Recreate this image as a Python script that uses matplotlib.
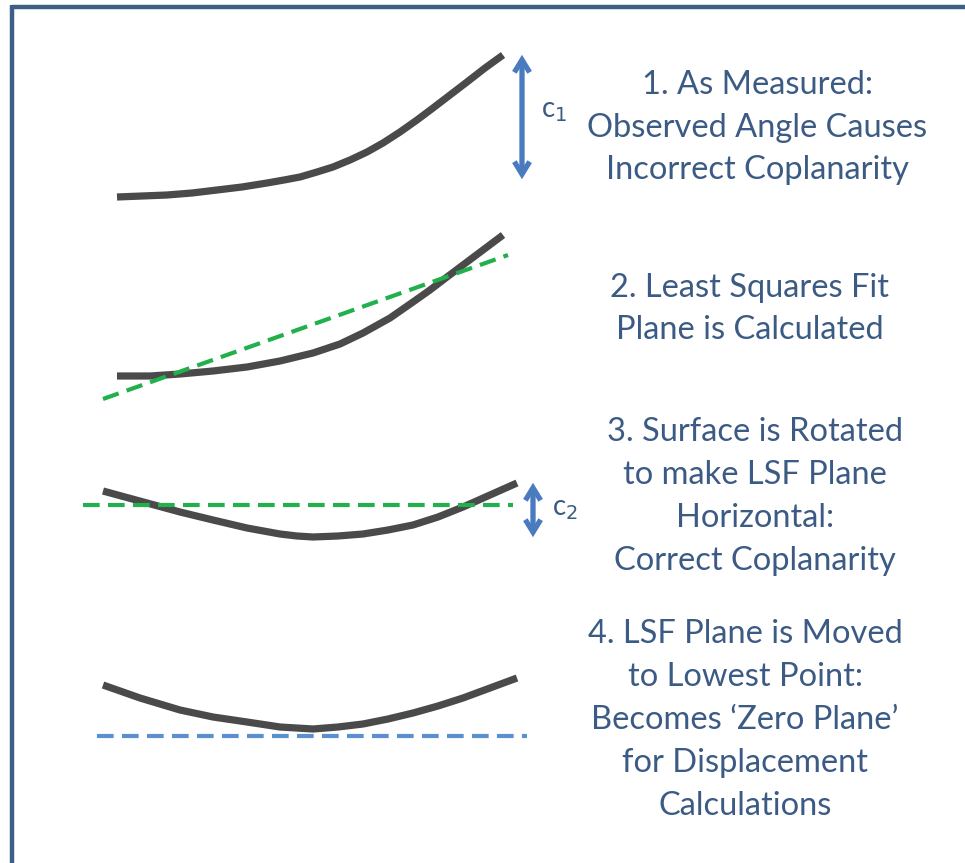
import matplotlib
matplotlib.use("Agg")
import matplotlib.pyplot as plt

# ---- data (pixel coordinates, y grows downward) ----
curve1_x = [117, 142, 167, 192, 217, 242, 267, 284, 300, 317, 333, 350, 367, 383, 400, 417, 433, 450, 467, 485, 503]
curve1_y = [197, 196, 195, 193, 190, 187, 183, 180, 177, 172, 167, 160, 152, 143, 132, 120, 108, 95, 82, 68, 55]

curve2_x = [117, 150, 180, 213, 247, 280, 313, 340, 363, 390, 413, 430, 447, 475, 503]
curve2_y = [376, 376, 374, 371, 367, 361, 353, 344, 333, 318, 302, 290, 277, 256, 235]
fit2_x = [103, 508]
fit2_y = [399, 255]

curve3_x = [103, 125, 147, 180, 213, 247, 280, 297, 313, 338, 363, 388, 413, 438, 463, 490, 517]
curve3_y = [491, 497, 503, 512, 520, 528, 534, 536, 537, 536, 534, 530, 525, 517, 507, 495, 483]
fit3_x = [83, 513]
fit3_y = [505, 505]

curve4_x = [103, 140, 180, 213, 247, 280, 313, 338, 363, 388, 413, 438, 463, 490, 517]
curve4_y = [685, 698, 710, 717, 722, 727, 729, 727, 724, 719, 713, 706, 698, 688, 678]
zero4_x = [97, 527]
zero4_y = [736, 736]

arrow1 = (522, 52, 182)
arrow2 = (533, 480, 540)

labels = [
    (757, [(85, "1. As Measured:"), (128, "Observed Angle Causes"), (170, "Incorrect Coplanarity")]),
    (750, [(288, "2. Least Squares Fit"), (330, "Plane is Calculated")]),
    (755, [(432, "3. Surface is Rotated"), (475, "to make LSF Plane"), (518, "Horizontal:"), (561, "Correct Coplanarity")]),
    (745, [(634, "4. LSF Plane is Moved"), (677, "to Lowest Point:"), (720, "Becomes \u2018Zero Plane\u2019"),
           (763, "for Displacement"), (806, "Calculations")]),
]

W, H = 965, 863
fig = plt.figure(figsize=(W / 100, H / 100), dpi=100)
ax = fig.add_axes([0, 0, 1, 1])
ax.set_xlim(0, W)
ax.set_ylim(H, 0)
ax.axis("off")

border = "#3d5f85"
curve_c = "#4a4a4a"
green = "#22b04c"
blue_dash = "#5b8fd0"
arrow_c = "#4a7bbf"
text_c = "#3b5a84"

# border (top and left)
ax.plot([12, W], [7, 7], color=border, lw=3.2, solid_capstyle="butt")
ax.plot([12, 12], [5, H], color=border, lw=3.2, solid_capstyle="butt")

lw_curve = 5.2
kw = dict(color=curve_c, lw=lw_curve, solid_capstyle="butt", solid_joinstyle="round")
ax.plot(curve1_x, curve1_y, **kw)
ax.plot(curve2_x, curve2_y, **kw)
ax.plot(fit2_x, fit2_y, color=green, lw=3, ls=(0, (4, 2)))
ax.plot(curve3_x, curve3_y, **kw)
ax.plot(fit3_x, fit3_y, color=green, lw=3, ls=(0, (4, 2)))
ax.plot(curve4_x, curve4_y, **kw)
ax.plot(zero4_x, zero4_y, color=blue_dash, lw=3, ls=(0, (4, 2)))

for (x, y0, y1) in (arrow1, arrow2):
    ax.annotate("", xy=(x, y0), xytext=(x, y1),
                arrowprops=dict(arrowstyle="<->,head_length=0.9,head_width=0.55",
                                color=arrow_c, lw=3.8, shrinkA=2, shrinkB=2,
                                joinstyle="miter", capstyle="butt"))

fam = ["Lato", "DejaVu Sans"]
ax.text(541, 111, r"c$_1$", color=text_c, fontsize=20, family=fam, ha="left", va="center")
ax.text(552, 509, r"c$_2$", color=text_c, fontsize=20, family=fam, ha="left", va="center")

for xc, lines in labels:
    for y, s in lines:
        ax.text(xc, y, s, color=text_c, fontsize=23.5, family=fam, ha="center", va="center")

fig.savefig("out.png", dpi=100, facecolor="white")
